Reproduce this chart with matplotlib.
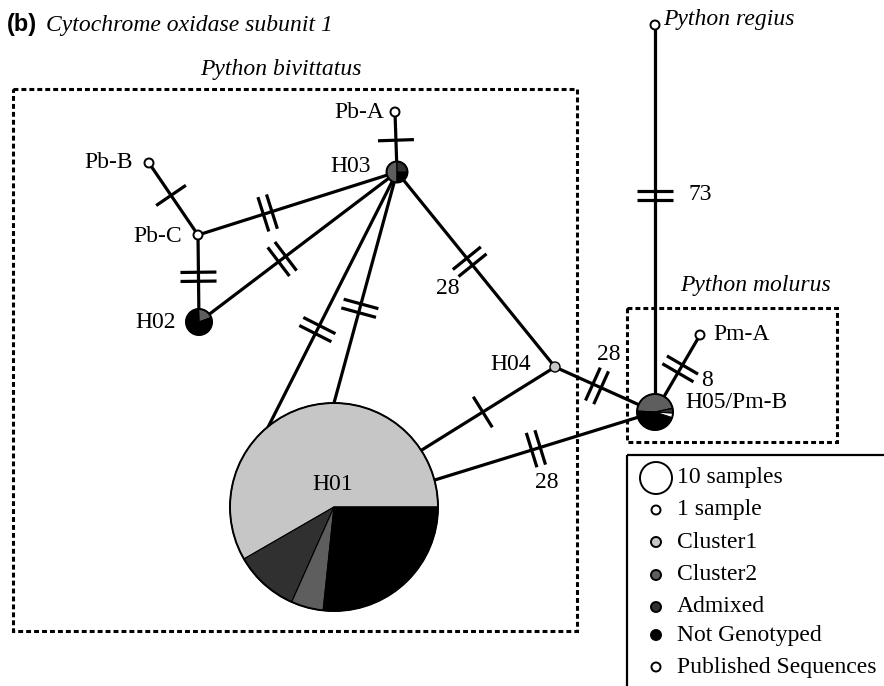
import numpy as np
import matplotlib
matplotlib.use("Agg")
import matplotlib.pyplot as plt
from matplotlib.patches import Wedge, Circle, Rectangle

# ---- data ----
groups = ["Cluster1", "Cluster2", "Admixed", "Not Genotyped", "Published Sequences"]
group_colors = ["#c6c6c6", "#5e5e5e", "#303030", "#000000", "#ffffff"]

# haplotype composition (counts per group, in drawing order)
h01_groups = ["Cluster1", "Admixed", "Cluster2", "Not Genotyped"]
h01_counts = [35, 6, 3, 16]
h02_groups = ["Cluster2", "Not Genotyped"]
h02_counts = [1, 4]
h03_groups = ["Cluster2", "Not Genotyped", "Admixed"]
h03_counts = [2, 1, 1]
h05_groups = ["Cluster2", "Not Genotyped", "Published Sequences", "Admixed"]
h05_counts = [11, 11, 1, 1]

# network edges: (from, to, mutational steps)
edge_from = ["Pb-A", "Pb-B", "Pb-C", "Pb-C", "H02", "H01a", "H01b", "H03", "H01c", "H01d", "H04", "H05", "regius"]
edge_to = ["H03", "Pb-C", "H02", "H03", "H03", "H03", "H03", "H04", "H04", "H05", "H05", "Pm-A", "H05"]
edge_steps = [1, 1, 2, 2, 2, 2, 2, 28, 1, 28, 28, 8, 73]

legend_labels = ["10 samples", "1 sample", "Cluster1", "Cluster2", "Admixed", "Not Genotyped", "Published Sequences"]

# ---- layout (pixel space) ----
pos = {
    "H01": (334, 507), "H02": (199, 322), "H03": (397, 172), "H04": (555, 367),
    "H05": (655, 412), "Pb-A": (395, 112), "Pb-B": (149, 163), "Pb-C": (198, 235),
    "Pm-A": (700, 335), "regius": (655, 25),
}
h01_r = 104
# attachment angles of the H01 edges on its rim
attach = {"H01a": 129, "H01b": 90, "H01c": 33, "H01d": 15}
for k, a in attach.items():
    pos[k] = (pos["H01"][0] + h01_r * np.cos(np.radians(a)),
              pos["H01"][1] - h01_r * np.sin(np.radians(a)))
tick_frac = [0.47, 0.45, 0.48, 0.35, 0.42, 0.38, 0.41, 0.46, 0.46, 0.46, 0.42, 0.56, 0.44]
step_label_xy = {7: (448, 288), 9: (547, 482), 10: (609, 355), 11: (707, 380), 12: (689, 195)}

SERIF = "Liberation Serif"
FS = 17
cmap = dict(zip(groups, group_colors))


def draw_pie(ax, center, radius, names, counts, start):
    total = float(sum(counts))
    a = start
    for nm, c in zip(names, counts):
        span = 360.0 * c / total
        # y axis is inverted, so negate angles to keep screen counter-clockwise
        ax.add_patch(Wedge(center, radius, -(a + span), -a, facecolor=cmap[nm],
                           edgecolor="black", linewidth=0.8, zorder=3))
        a += span
    ax.add_patch(Circle(center, radius, facecolor="none", edgecolor="black", linewidth=1.4, zorder=3.1))


def draw_ticks(ax, p0, p1, frac, n, length=36, gap=9):
    p0 = np.array(p0, float)
    p1 = np.array(p1, float)
    d = (p1 - p0) / np.linalg.norm(p1 - p0)
    nrm = np.array([-d[1], d[0]])
    c = p0 + frac * (p1 - p0)
    for i in range(n):
        off = (i - (n - 1) / 2.0) * gap
        q = c + off * d
        a = q - nrm * length / 2
        b = q + nrm * length / 2
        ax.plot([a[0], b[0]], [a[1], b[1]], color="black", lw=2.3, solid_capstyle="butt", zorder=2)


fig = plt.figure(figsize=(8.84, 6.86), dpi=100)
ax = fig.add_axes([0, 0, 1, 1])
ax.set_xlim(0, 884)
ax.set_ylim(686, 0)
ax.axis("off")

# edges
for i, (a, b, s) in enumerate(zip(edge_from, edge_to, edge_steps)):
    pa, pb = pos[a], pos[b]
    ax.plot([pa[0], pb[0]], [pa[1], pb[1]], color="black", lw=2.3, zorder=1)
    draw_ticks(ax, pa, pb, tick_frac[i], 1 if s == 1 else 2)
    if s > 2:
        lx, ly = step_label_xy[i]
        ha = "left" if i == 12 else "center"
        ax.text(lx, ly, str(s), fontsize=FS, family=SERIF, ha=ha, va="center", zorder=4)

# nodes
draw_pie(ax, pos["H01"], h01_r, h01_groups, h01_counts, 0)
draw_pie(ax, pos["H02"], 13, h02_groups, h02_counts, 20)
draw_pie(ax, pos["H03"], 10.5, h03_groups, h03_counts, 90)
draw_pie(ax, pos["H05"], 18, h05_groups, h05_counts, 12)
for k in ["Pb-A", "Pb-B", "Pb-C", "Pm-A", "regius"]:
    ax.add_patch(Circle(pos[k], 4.5, facecolor="white", edgecolor="black", lw=1.4, zorder=3))
ax.add_patch(Circle(pos["H04"], 5, facecolor=cmap["Cluster1"], edgecolor="black", lw=1.0, zorder=3))

# node labels
ax.text(333, 485, "H01", fontsize=FS, family=SERIF, ha="center", va="center", zorder=4)
ax.text(176, 322, "H02", fontsize=FS, family=SERIF, ha="right", va="center")
ax.text(371, 167, "H03", fontsize=FS, family=SERIF, ha="right", va="center")
ax.text(531, 365, "H04", fontsize=FS, family=SERIF, ha="right", va="center")
ax.text(685, 402, "H05/Pm-B", fontsize=FS, family=SERIF, ha="left", va="center")
ax.text(384, 112, "Pb-A", fontsize=FS, family=SERIF, ha="right", va="center")
ax.text(133, 163, "Pb-B", fontsize=FS, family=SERIF, ha="right", va="center")
ax.text(182, 236, "Pb-C", fontsize=FS, family=SERIF, ha="right", va="center")
ax.text(713, 335, "Pm-A", fontsize=FS, family=SERIF, ha="left", va="center")
ax.text(663, 20, "Python regius", fontsize=FS, family=SERIF, style="italic", ha="left", va="center")

# species boxes
dot = (0, (1.6, 1.0))
ax.add_patch(Rectangle((13, 89), 564, 542, fill=False, lw=2.2, ls=dot, edgecolor="black", zorder=0))
ax.add_patch(Rectangle((627, 308), 210, 134, fill=False, lw=2.2, ls=dot, edgecolor="black", zorder=0))
ax.text(281, 70, "Python bivittatus", fontsize=FS, family=SERIF, style="italic", ha="center", va="center")
ax.text(755, 285, "Python molurus", fontsize=FS, family=SERIF, style="italic", ha="center", va="center")

# title
ax.text(7, 25, "(b)", fontsize=17, family="Liberation Sans", weight="bold", ha="left", va="center")
ax.text(46, 25, "Cytochrome oxidase subunit 1", fontsize=FS, family=SERIF, style="italic", ha="left", va="center")

# legend
ax.add_patch(Rectangle((627, 455), 300, 300, fill=False, lw=1.6, edgecolor="black", zorder=0))
leg_y = [478, 510, 542, 575, 607, 635, 667]
leg_r = [16, 4.5, 5, 5, 5, 5, 4.5]
leg_fc = ["white", "white"] + group_colors
for lab, y, r, fc in zip(legend_labels, leg_y, leg_r, leg_fc):
    ax.add_patch(Circle((656, y), r, facecolor=fc, edgecolor="black", lw=1.4, zorder=3))
    ax.text(677, y, lab, fontsize=FS, family=SERIF, ha="left", va="center")

fig.savefig("out.png", dpi=100)
